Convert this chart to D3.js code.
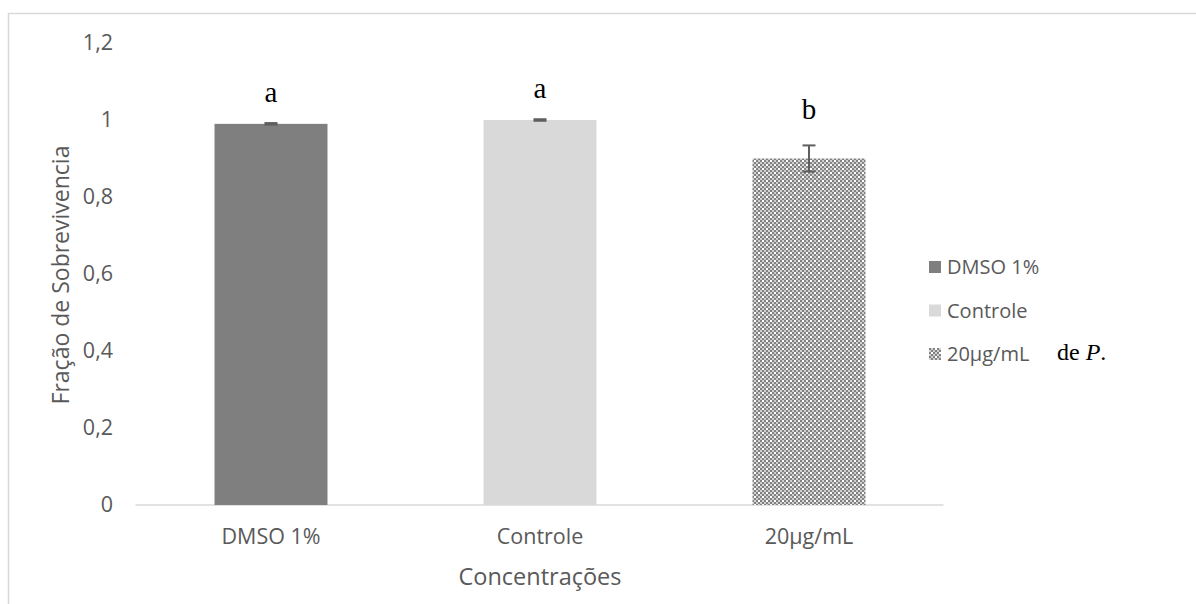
<!DOCTYPE html>
<html>
<head>
<meta charset="utf-8">
<script src="https://cdn.jsdelivr.net/npm/d3@7"></script>
<style>
  html, body { margin: 0; padding: 0; background: #fff; }
  svg { display: block; }
</style>
</head>
<body>
<script>
// Survival fraction per treatment
const categories = ["DMSO 1%", "Controle", "20µg/mL"];
const values = [0.99, 1.0, 0.90];
const errors = [0.002, 0.002, 0.034];
const letters = ["a", "a", "b"];
const yTicks = [0, 0.2, 0.4, 0.6, 0.8, 1, 1.2];
const yTickLabels = ["0", "0,2", "0,4", "0,6", "0,8", "1", "1,2"];

const W = 1196, H = 604;
const svg = d3.select("body").append("svg").attr("width", W).attr("height", H);

const defs = svg.append("defs");
const pat = defs.append("pattern")
  .attr("id", "dots").attr("patternUnits", "userSpaceOnUse")
  .attr("width", 8).attr("height", 8);
pat.append("rect").attr("width", 8).attr("height", 8).attr("fill", "#d0d0d0");
[[0,0],[2,2],[4,0],[6,2],[0,4],[2,6],[4,4],[6,6]].forEach(([x, y]) => {
  pat.append("rect").attr("x", x).attr("y", y).attr("width", 2).attr("height", 2).attr("fill", "#828282");
});
pat.append("rect").attr("x", 2).attr("y", 0).attr("width", 2).attr("height", 2).attr("fill", "#ffffff");
pat.append("rect").attr("x", 6).attr("y", 4).attr("width", 2).attr("height", 2).attr("fill", "#ffffff");

const fills = ["#7f7f7f", "#d9d9d9", "url(#dots)"];

// chart frame
svg.append("path")
  .attr("d", `M8.5,${H} V13.5 H${W}`)
  .attr("fill", "none").attr("stroke", "#d9d9d9").attr("stroke-width", 1.5);

const x = d3.scaleBand().domain(categories).range([136.5, 943.5]).padding(0);
const y = d3.scaleLinear().domain([0, 1.2]).range([505, 43]);
const barW = x.bandwidth() * 0.42;

const font = "'Open Sans', Lato, sans-serif";
const serif = "'Liberation Serif', 'Times New Roman', serif";

// y axis labels (no line)
const yAxis = d3.axisLeft(y).tickValues(yTicks)
  .tickFormat((d, i) => yTickLabels[i]).tickSize(0).tickPadding(0);
const gy = svg.append("g").attr("transform", "translate(113,0)").call(yAxis);
gy.select(".domain").remove();
gy.selectAll("text").attr("font-family", font).attr("font-size", 21.5).attr("fill", "#595959");

// x axis
const xAxis = d3.axisBottom(x).tickSize(0).tickPadding(24);
const gx = svg.append("g").attr("transform", "translate(0,505)").call(xAxis);
gx.select(".domain").attr("stroke", "#d9d9d9").attr("stroke-width", 1.5)
  .attr("d", `M${x.range()[0] - 1},0H${x.range()[1]}`);
gx.selectAll("text").attr("font-family", font).attr("font-size", 21.5).attr("fill", "#595959");

// bars
svg.append("g").selectAll("rect").data(categories).join("rect")
  .attr("x", (d) => x(d) + (x.bandwidth() - barW) / 2)
  .attr("y", (d, i) => y(values[i]))
  .attr("width", barW)
  .attr("height", (d, i) => y(0) - y(values[i]))
  .attr("fill", (d, i) => fills[i]);

// error bars
const eg = svg.append("g").attr("stroke", "#5f5f5f").attr("stroke-width", 2);
categories.forEach((c, i) => {
  const cx = x(c) + x.bandwidth() / 2;
  const y1 = y(values[i] + errors[i]), y0 = y(values[i] - errors[i]);
  eg.append("line").attr("x1", cx).attr("x2", cx).attr("y1", y1).attr("y2", y0);
  eg.append("line").attr("x1", cx - 6.5).attr("x2", cx + 6.5).attr("y1", y1).attr("y2", y1);
  eg.append("line").attr("x1", cx - 6.5).attr("x2", cx + 6.5).attr("y1", y0).attr("y2", y0);
});

// significance letters
svg.append("g").selectAll("text").data(categories).join("text")
  .attr("x", (d) => x(d) + x.bandwidth() / 2)
  .attr("y", (d, i) => y(values[i] + errors[i]) - 21 - 5 * (errors[i] > 0.01))
  .attr("text-anchor", "middle")
  .attr("font-family", serif)
  .attr("font-size", 29).attr("fill", "#000")
  .text((d, i) => letters[i]);

// axis titles
svg.append("text")
  .attr("transform", "translate(69,275) rotate(-90)")
  .attr("text-anchor", "middle")
  .attr("font-family", font).attr("font-size", 23).attr("fill", "#595959")
  .text("Fração de Sobrevivencia");
svg.append("text")
  .attr("x", 540).attr("y", 585)
  .attr("text-anchor", "middle")
  .attr("font-family", font).attr("font-size", 23.5).attr("fill", "#595959")
  .text("Concentrações");

// legend
const lg = svg.append("g").attr("transform", "translate(929,0)");
categories.forEach((c, i) => {
  const ly = 267 + i * 43.5;
  lg.append("rect").attr("x", 0).attr("y", ly - 6).attr("width", 12).attr("height", 12).attr("fill", fills[i]);
  lg.append("text").attr("x", 18).attr("y", ly + 7)
    .attr("font-family", font).attr("font-size", 20).attr("fill", "#595959")
    .text(c);
});
const extra = lg.append("text").attr("x", 128).attr("y", 360)
  .attr("font-family", serif)
  .attr("font-size", 24).attr("fill", "#000");
extra.append("tspan").text("de ");
extra.append("tspan").attr("font-style", "italic").text("P");
extra.append("tspan").text(".");
</script>
</body>
</html>
